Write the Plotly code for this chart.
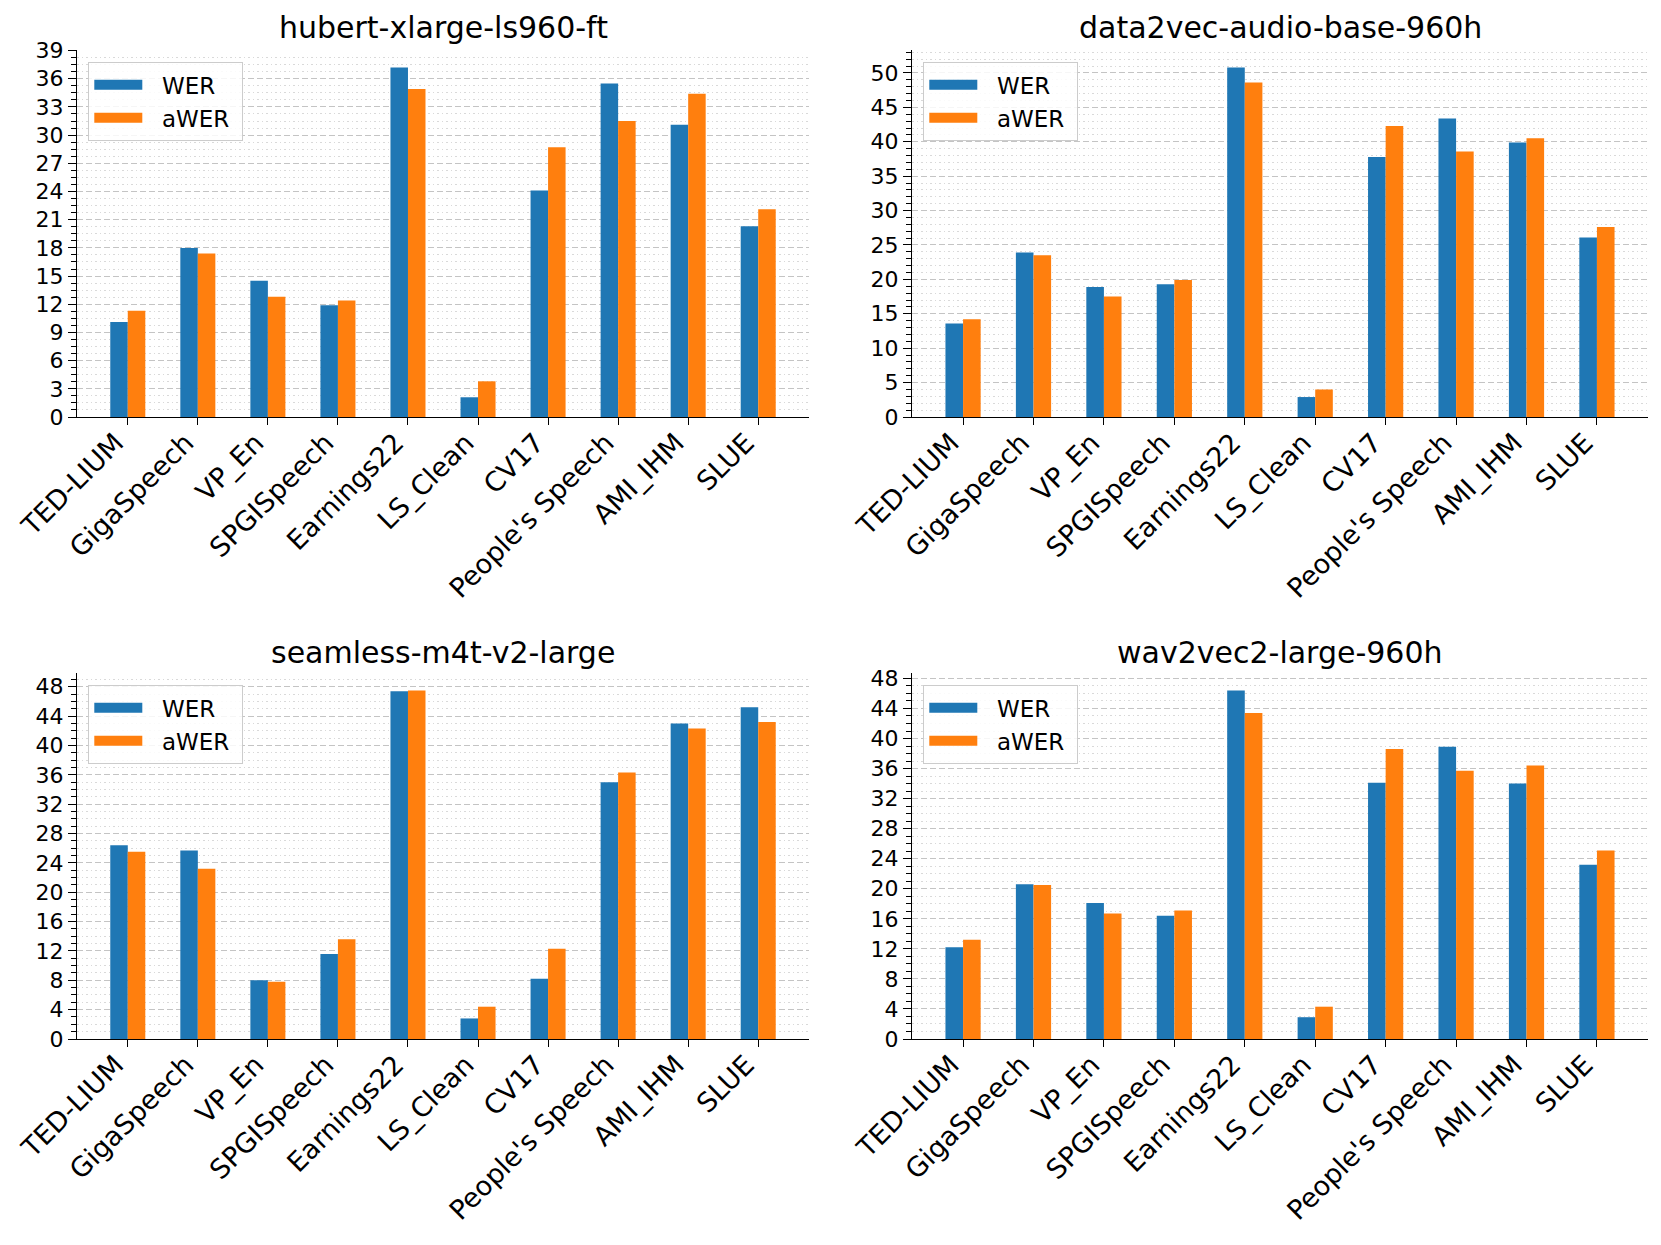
import plotly.graph_objects as go

categories = ["TED-LIUM", "GigaSpeech", "VP_En", "SPGISpeech", "Earnings22",
              "LS_Clean", "CV17", "People's Speech", "AMI_IHM", "SLUE"]
models = ["hubert-xlarge-ls960-ft", "data2vec-audio-base-960h",
          "seamless-m4t-v2-large", "wav2vec2-large-960h"]

hubert_wer = [10.1, 18.0, 14.5, 11.9, 37.2, 2.1, 24.1, 35.5, 31.1, 20.3]
hubert_awer = [11.3, 17.4, 12.8, 12.4, 34.9, 3.8, 28.7, 31.5, 34.4, 22.1]
data2vec_wer = [13.6, 23.9, 18.9, 19.3, 50.8, 2.9, 37.8, 43.4, 39.9, 26.1]
data2vec_awer = [14.2, 23.5, 17.5, 19.9, 48.6, 4.0, 42.3, 38.6, 40.5, 27.6]
seamless_wer = [26.4, 25.7, 8.0, 11.6, 47.4, 2.8, 8.2, 35.0, 43.0, 45.2]
seamless_awer = [25.5, 23.2, 7.8, 13.6, 47.5, 4.4, 12.3, 36.3, 42.3, 43.2]
wav2vec2_wer = [12.2, 20.6, 18.1, 16.4, 46.4, 2.9, 34.1, 38.9, 34.0, 23.2]
wav2vec2_awer = [13.2, 20.5, 16.7, 17.1, 43.4, 4.3, 38.6, 35.7, 36.4, 25.1]

series_names = ["WER", "aWER"]
major_dtick = [3, 5, 4, 4]
minor_dtick = [0.75, 1, 1, 1]

wer_sets = [hubert_wer, data2vec_wer, seamless_wer, wav2vec2_wer]
awer_sets = [hubert_awer, data2vec_awer, seamless_awer, wav2vec2_awer]

colors = ["#1f77b4", "#ff7f0e"]
FONT = "DejaVu Sans"
W, H = 1661, 1245
NBSP = "\u00a0"

# panel pixel boxes (left, right, top, bottom)
col_px = [(77, 809), (912, 1648)]
row_px = [(50, 417), (673, 1039)]
title_px = [27, 652]


def px_x(v):
    return v / W


def px_y(v):
    return (H - v) / H


fig = go.Figure()
layout = dict(
    width=W, height=H,
    margin=dict(l=0, r=0, t=0, b=0),
    paper_bgcolor="white", plot_bgcolor="white",
    template="none",
    barmode="group", bargap=0.5, bargroupgap=0,
    font=dict(family=FONT, color="black"),
    annotations=[],
)

for i, model in enumerate(models):
    r, c = divmod(i, 2)
    n = i + 1
    xa = "x" if n == 1 else f"x{n}"
    ya = "y" if n == 1 else f"y{n}"
    lg = "legend" if n == 1 else f"legend{n}"
    for s, vals in enumerate([wer_sets[i], awer_sets[i]]):
        fig.add_trace(go.Bar(
            x=categories, y=vals, name=series_names[s],
            marker=dict(color=colors[s], line=dict(width=0)),
            xaxis=xa, yaxis=ya, offsetgroup=str(s), showlegend=False,
        ))
    # legend entries (patch-like keys)
    for s in range(2):
        fig.add_trace(go.Scatter(
            x=[None], y=[None], mode="lines",
            name=NBSP * 2 + series_names[s] + NBSP,
            line=dict(color=colors[s], width=16),
            xaxis=xa, yaxis=ya, legend=lg, showlegend=True, hoverinfo="skip",
        ))
    ymax = 1.05 * max(max(wer_sets[i]), max(awer_sets[i]))
    l, rr = col_px[c]
    t, b = row_px[r]
    xdict = dict(
        domain=[px_x(l), px_x(rr)], anchor=ya, type="category",
        range=[-0.725, len(categories) - 1 + 0.725],
        showline=True, linecolor="black", linewidth=1.3, mirror=False,
        ticks="outside", ticklen=7, tickwidth=1.3, tickcolor="black",
        tickangle=-45, tickfont=dict(size=27, family=FONT, color="black"),
        showgrid=False, zeroline=False,
    )
    try:
        go.layout.XAxis(ticklabelstandoff=-9, ticklabelshift=-12)
        xdict["ticklabelstandoff"] = -9
        xdict["ticklabelshift"] = -12
    except Exception:
        pass
    layout["xaxis" if n == 1 else f"xaxis{n}"] = xdict
    layout["yaxis" if n == 1 else f"yaxis{n}"] = dict(
        domain=[px_y(b), px_y(t)], anchor=xa,
        range=[0, ymax], tick0=0, dtick=major_dtick[i],
        showline=True, linecolor="black", linewidth=1.3,
        ticks="outside", ticklen=8, tickwidth=1.3, tickcolor="black",
        tickfont=dict(size=22, family=FONT, color="black"),
        showgrid=True, gridcolor="#c4c4c4", gridwidth=1.2, griddash="6px,3px",
        zeroline=False,
        minor=dict(dtick=minor_dtick[i], tick0=0, ticks="outside", ticklen=4.5,
                   tickwidth=1, tickcolor="black", showgrid=True,
                   gridcolor="#d9d9d9", gridwidth=1, griddash="1.5px,3px"),
    )
    layout[lg] = dict(
        x=px_x(l + 11), y=px_y(t + 12), xanchor="left", yanchor="top",
        xref="paper", yref="paper",
        bordercolor="#cccccc", borderwidth=1.3, bgcolor="rgba(255,255,255,0.85)",
        font=dict(size=23, family=FONT, color="black"),
        itemwidth=48,
    )
    layout["annotations"].append(dict(
        text=model, x=px_x((l + rr) / 2), y=px_y(title_px[r]),
        xref="paper", yref="paper", xanchor="center", yanchor="middle",
        showarrow=False, font=dict(size=30, family=FONT, color="black"),
    ))

fig.update_layout(**layout)
fig.write_html("out.html", config={"displayModeBar": False},
               post_script="document.body.style.margin='0';document.body.style.padding='0';")
